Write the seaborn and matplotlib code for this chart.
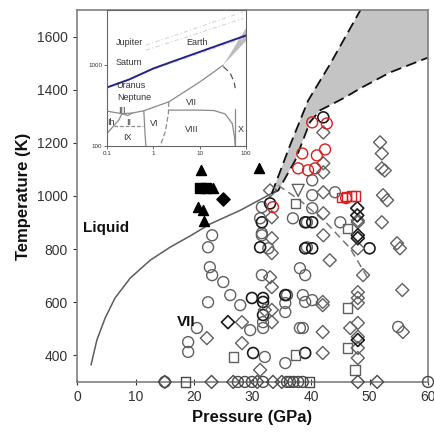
import numpy as np
import pandas as pd
import matplotlib
matplotlib.use("Agg")
import matplotlib.pyplot as plt
import seaborn as sns

sns.set_style("ticks")
plt.rcParams['font.family'] = ['Liberation Sans', 'DejaVu Sans']

# ---------------- data ----------------
# melting curve (solid grey)
melt_P = [2.4, 3.4, 4.8, 6.5, 9.1, 12.5, 15.9, 19.3, 22.7, 27.9, 33.3]
melt_T = [364, 458, 540, 616, 691, 758, 807, 849, 894, 946, 1010]
# grey band boundaries (dashed)
bandL_P = [33.3, 36.4, 39.5, 43.3, 48.4, 48.8]
bandL_T = [1010, 1190, 1359, 1498, 1698, 1720]
bandR_P = [33.3, 34.4, 37.3, 39.8, 41.5, 43.2, 45.8, 48.4, 53.5, 60.0]
bandR_T = [1010, 1021, 1134, 1277, 1322, 1341, 1371, 1405, 1465, 1521]
# dashed boundary going down from the triple point
vx_P = [34.4, 38.1, 42.7, 46.7, 49.6]
vx_T = [1040, 984, 897, 803, 694]

circ_gray_P = [23.1, 22.4, 22.7, 23.1, 25.0, 22.4, 26.2, 27.9, 35.9, 38.6, 40.2, 39.0, 35.6, 35.6,
               29.6, 31.8, 38.1, 38.6, 20.5, 19.0, 19.0, 32.1, 35.6, 54.9, 31.6, 31.3, 36.9, 45.0,
               44.1, 31.6, 32.7, 39.3, 31.6, 38.1, 39.0, 40.2, 40.2, 40.2, 39.3, 31.6, 31.8]
circ_gray_T = [852, 807, 732, 702, 676, 600, 627, 589, 627, 627, 608, 601, 597, 563,
               495, 503, 503, 503, 503, 450, 413, 394, 371, 507, 958, 916, 916, 901,
               1014, 852, 803, 807, 702, 728, 702, 1059, 1003, 954, 901, 860, 525]
circ_dark_P = [42.1, 31.6, 39.0, 40.2, 31.3, 39.0, 40.2, 50.0, 31.8, 29.9, 35.6, 31.8, 31.8,
               30.1, 39.0, 33.0]
circ_dark_T = [1296, 901, 901, 901, 807, 803, 803, 803, 616, 616, 627, 601, 552,
               409, 409, 972]
diam_gray_P = [42.1, 42.1, 42.1, 42.1, 33.0, 33.3, 42.1, 42.1, 48.0, 51.8, 52.1, 52.1, 52.6,
               52.3, 53.0, 52.1, 54.7, 55.2, 33.3, 33.3, 48.0, 48.0, 43.2, 33.0, 33.3, 48.9,
               42.0, 48.0, 48.0, 55.6, 32.1, 33.3, 42.0, 48.0, 28.2, 33.3, 42.0, 46.7, 48.0,
               55.7, 22.2, 28.2, 42.0, 48.0, 48.0, 31.3, 48.0]
diam_gray_T = [1239, 1123, 1089, 1014, 1021, 920, 935, 852, 901, 1202, 1160, 1104, 1096,
               1003, 984, 901, 822, 803, 841, 785, 908, 803, 758, 694, 657, 702,
               601, 638, 616, 646, 571, 571, 589, 597, 525, 525, 488, 503, 522,
               488, 465, 446, 409, 428, 390, 345, 470]
diam_dark_P = [47.9, 47.9, 48.0, 48.0, 25.8, 48.0]
diam_dark_T = [954, 927, 852, 841, 525, 458]
sq_P = [37.3, 46.2, 46.2, 26.7, 37.3, 46.2, 47.5]
sq_T = [972, 879, 578, 394, 401, 428, 345]
tri_dn_P = [37.8]
tri_dn_T = [1021]
red_circ_P = [40.2, 42.7, 38.5, 41.0, 42.4, 37.8, 39.5, 40.7, 33.5, 46.0]
red_circ_T = [1277, 1273, 1160, 1153, 1175, 1104, 1097, 1104, 958, 992]
red_sq_P = [45.3, 46.1, 46.9, 47.6]
red_sq_T = [995, 998, 1000, 1000]
blk_tri_P = [21.2, 31.1, 23.2, 20.7, 21.5, 21.7]
blk_tri_T = [1096, 1104, 1029, 958, 946, 905]
blk_sq_P = [21.0, 22.1]
blk_sq_T = [1029, 1029]
blk_diam_P = [25.0]
blk_diam_T = [988]
# points at 300 K
base_circ_P = [15.0, 27.5, 28.7, 29.9, 31.8, 35.9, 36.4, 37.0, 37.8, 38.6, 60.0]
base_diam_P = [15.0, 23.0, 26.7, 30.8, 33.5, 35.0, 48.0, 51.3]
base_sq_P = [18.5, 39.8]
base_T = 300

x_ticks = [0, 10, 20, 30, 40, 50, 60]
y_ticks = [400, 600, 800, 1000, 1200, 1400, 1600]

# inset (water phase diagram, log-log)
blue_P = [0.1, 0.30, 1.0, 3.1, 10, 32, 103]
blue_T = [530, 665, 910, 1150, 1460, 1850, 2345]
adiabA_P = [0.69, 87]; adiabA_T = [1765, 4550]
adiabB_P = [0.69, 87]; adiabB_T = [1530, 3780]
adiabC_P = [0.69, 87]; adiabC_T = [826, 2138]
imelt_P = [0.1, 0.21, 0.35, 0.62, 2.15, 10, 32]
imelt_T = [270, 251, 256, 273, 352, 620, 1000]
iVI_P = [0.62, 0.64, 0.66, 0.69]
iVI_T = [273, 200, 140, 100]
iVIVII_P = [2.15, 2.1, 1.8, 1.4]
iVIVII_T = [352, 250, 150, 100]
iVIII_P = [2.2, 10, 20, 35, 50, 56, 58]
iVIII_T = [278, 278, 275, 250, 190, 130, 100]
iX_P = [57.5, 57.5]
iX_T = [100, 290]
iXd_P = [32, 45, 55, 58]
iXd_T = [960, 800, 620, 520]
iIh_P = [0.1, 0.18, 0.21]
iIh_T = [143, 210, 251]
iIX_P = [0.14, 0.6]
iIX_T = [176, 176]
iII_P = [0.21, 0.28, 0.35]
iII_T = [251, 238, 256]
igrey_P = [32, 100, 100]
igrey_T = [1000, 2900, 2000]
inset_labels = [("Jupiter", 0.30, 1920), ("Earth", 8.6, 1920), ("Saturn", 0.30, 1090),
                ("Uranus", 0.33, 566), ("Neptune", 0.39, 403), ("VII", 6.7, 349),
                ("III", 0.21, 278), ("Ih", 0.12, 198), ("II", 0.29, 198), ("VI", 1.05, 192),
                ("VIII", 6.7, 162), ("X", 78, 158), ("IX", 0.27, 129)]

# ---------------- figure ----------------
fig = plt.figure(figsize=(4.35, 4.36), dpi=100)
ax = fig.add_axes([0.177, 0.124, 0.807, 0.853])

# grey band
poly_P = bandL_P + [60.5, 60.5] + bandR_P[::-1]
poly_T = bandL_T + [1720, bandR_T[-1]] + bandR_T[::-1]
ax.fill(poly_P, poly_T, color="#c4c4c4", zorder=1, lw=0)

sns.lineplot(x=melt_P, y=melt_T, sort=False, estimator=None, color="#5c5c5c", lw=1.1, ax=ax, zorder=2)
ax.plot(bandL_P, bandL_T, color="#111111", lw=1.3, ls=(0, (6, 3)), zorder=2)
ax.plot(bandR_P, bandR_T, color="#111111", lw=1.3, ls=(0, (6, 3)), zorder=2)
ax.plot(vx_P, vx_T, color="#777777", lw=1.1, ls=(0, (5, 3)), zorder=2)


def scat(P, T, marker, s, ec, fc="none", lw=1.0):
    df = pd.DataFrame({"P": P, "T": T})
    sns.scatterplot(data=df, x="P", y="T", marker=marker, s=s, color=ec,
                    facecolor=fc, edgecolor=ec, linewidth=lw, ax=ax, zorder=3, clip_on=False)


scat(circ_gray_P, circ_gray_T, "o", 62, "#606060")
scat(circ_dark_P, circ_dark_T, "o", 62, "#1a1a1a", lw=1.2)
scat(diam_gray_P, diam_gray_T, "D", 44, "#606060")
scat(diam_dark_P, diam_dark_T, "D", 44, "#1a1a1a", lw=1.2)
scat(sq_P, sq_T, "s", 44, "#606060")
scat(tri_dn_P, tri_dn_T, "v", 75, "#606060")
scat(base_circ_P, [base_T] * len(base_circ_P), "o", 62, "#4a4a4a")
scat(base_diam_P, [base_T] * len(base_diam_P), "D", 44, "#4a4a4a")
scat(base_sq_P, [base_T] * len(base_sq_P), "s", 44, "#4a4a4a")
scat(red_circ_P, red_circ_T, "o", 62, "#d62020")
scat(red_sq_P, red_sq_T, "s", 44, "#d62020")
scat(blk_tri_P, blk_tri_T, "^", 52, "#000000", fc="#000000")
scat(blk_sq_P, blk_sq_T, "s", 42, "#000000", fc="#000000")
scat(blk_diam_P, blk_diam_T, "D", 45, "#000000", fc="#000000")

ax.text(1.0, 880, "Liquid", fontsize=11, fontweight="bold", color="#111111", va="center")
ax.text(17.0, 527, "VII", fontsize=11, fontweight="bold", color="#111111", va="center")

ax.set_xlim(0, 60)
ax.set_ylim(300, 1700)
ax.set_xticks(x_ticks)
ax.set_yticks(y_ticks)
ax.set_xlabel("Pressure (GPa)", fontsize=12, fontweight="bold", color="#111111", labelpad=4)
ax.set_ylabel("Temperature (K)", fontsize=12, fontweight="bold", color="#111111", labelpad=4)
ax.tick_params(axis="both", labelsize=10, colors="#333333", length=3, width=0.8)
ax.tick_params(axis="x", direction="inout", length=5)
for sp in ax.spines.values():
    sp.set_visible(True)
    sp.set_color("#808080")
    sp.set_linewidth(1.2)

# ---------------- inset ----------------
ia = fig.add_axes([0.246, 0.665, 0.320, 0.312])
ia.set_facecolor("white")
ia.set_xscale("log")
ia.set_yscale("log")
ia.fill(igrey_P, igrey_T, color="#bdbdbd", lw=0)
for P, T in [(adiabA_P, adiabA_T), (adiabB_P, adiabB_T), (adiabC_P, adiabC_T)]:
    ia.plot(P, T, color="#d6d6d6", lw=0.8, ls=(0, (4, 2, 1, 2)))
gl = dict(color="#8a8a8a", lw=0.9)
ia.plot(imelt_P, imelt_T, **gl)
ia.plot(iVI_P, iVI_T, **gl)
ia.plot(iVIVII_P, iVIVII_T, ls=(0, (4, 2)), **gl)
ia.plot(iVIII_P, iVIII_T, **gl)
ia.plot(iX_P, iX_T, **gl)
ia.plot(iXd_P, iXd_T, color="#555555", lw=0.9, ls=(0, (5, 3)))
ia.plot(iIh_P, iIh_T, **gl)
ia.plot(iIX_P, iIX_T, ls=(0, (3, 1.5)), **gl)
ia.plot(iII_P, iII_T, **gl)
sns.lineplot(x=blue_P, y=blue_T, sort=False, estimator=None, color="#22228a", lw=1.4, ax=ia)
for s, P, T in inset_labels:
    ia.text(P, T, s, fontsize=6.5, color="#333333", ha="center", va="center")
ia.set_xlim(0.1, 100)
ia.set_ylim(100, 4800)
ia.set_xticks([0.1, 1, 10, 100])
ia.set_xticklabels(["0.1", "1", "10", "100"])
ia.set_yticks([100, 1000])
ia.set_yticklabels(["100", "1000"])
ia.minorticks_off()
ia.tick_params(labelsize=4.5, colors="#333333", length=2, width=0.5, pad=1.5)
for sp in ia.spines.values():
    sp.set_color("#666666")
    sp.set_linewidth(0.8)

fig.savefig("out.png", dpi=100)
